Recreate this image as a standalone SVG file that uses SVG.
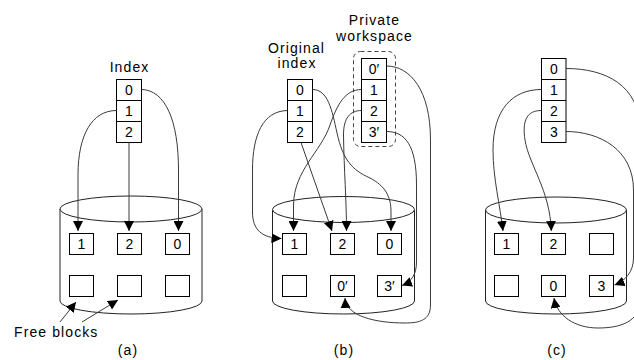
<svg xmlns="http://www.w3.org/2000/svg" width="634" height="360" viewBox="0 0 634 360">
<style>
.bx{fill:#fff;stroke:#000;stroke-width:1}
.ln{fill:none;stroke:#000;stroke-width:1}
.cyl{fill:#fff;stroke:#222;stroke-width:1}
.t{font-family:"Liberation Sans",Arial,sans-serif;font-size:14px;fill:#000;text-anchor:middle}
.lb{font-family:"Liberation Sans",Arial,sans-serif;font-size:14px;fill:#000;text-anchor:middle;letter-spacing:1.1px}
.c{fill:none;stroke:#3a3a3a;stroke-width:1}
.ca{fill:none;stroke:#3a3a3a;stroke-width:1;marker-end:url(#ah)}
.dash{fill:none;stroke:#444;stroke-width:1;stroke-dasharray:4 3}
</style>
<defs>
<marker id="ah" viewBox="0 0 10 10" refX="10" refY="5" markerWidth="10" markerHeight="10" markerUnits="userSpaceOnUse" orient="auto">
<path d="M0,0 L10,5 L0,10 z" fill="#000"/>
</marker>
</defs>
<rect width="634" height="360" fill="#fff"/>

<!-- Panel (a) -->
<g id="disk-a">
<path class="cyl" d="M60,209 L60,301 A71,13 0 0 0 202,301 L202,209"/>
<ellipse class="cyl" cx="131" cy="209" rx="71" ry="13"/>
</g>
<g id="block-a1"><rect class="bx" x="69.5" y="233.5" width="24" height="21"/><text class="t" x="81.5" y="249">1</text></g>
<g id="block-a2"><rect class="bx" x="117.5" y="233.5" width="24" height="21"/><text class="t" x="129.5" y="249">2</text></g>
<g id="block-a3"><rect class="bx" x="165.5" y="233.5" width="24" height="21"/><text class="t" x="177.5" y="249">0</text></g>
<g id="block-a4"><rect class="bx" x="69.5" y="275.5" width="24" height="21"/></g>
<g id="block-a5"><rect class="bx" x="117.5" y="275.5" width="24" height="21"/></g>
<g id="block-a6"><rect class="bx" x="165.5" y="275.5" width="24" height="21"/></g>
<g id="index-a">
<rect class="bx" x="116.5" y="79.5" width="25" height="63"/>
<path class="ln" d="M116.5,100.5 H141.5 M116.5,121.5 H141.5"/>
<text class="t" x="129" y="95">0</text>
<text class="t" x="129" y="116">1</text>
<text class="t" x="129" y="137">2</text>
</g>
<g id="label-a">
<text class="lb" x="129.5" y="72">Index</text>
<text class="lb" x="14" y="336.5" style="text-anchor:start">Free blocks</text>
<text class="lb" x="128" y="355">(a)</text>
</g>

<!-- Panel (b) -->
<g id="disk-b">
<path class="cyl" d="M272.5,209.5 L272.5,301 A71,13 0 0 0 414.5,301 L414.5,209.5"/>
<ellipse class="cyl" cx="343.5" cy="209.5" rx="71" ry="13"/>
</g>
<g id="block-b1"><rect class="bx" x="282.5" y="233.5" width="24" height="21"/><text class="t" x="294.5" y="249">1</text></g>
<g id="block-b2"><rect class="bx" x="330.5" y="233.5" width="24" height="21"/><text class="t" x="342.5" y="249">2</text></g>
<g id="block-b3"><rect class="bx" x="377.5" y="233.5" width="24" height="21"/><text class="t" x="389.5" y="249">0</text></g>
<g id="block-b4"><rect class="bx" x="282.5" y="275.5" width="24" height="21"/></g>
<g id="block-b5"><rect class="bx" x="330.5" y="275.5" width="24" height="21"/><text class="t" x="342.5" y="291">0′</text></g>
<g id="block-b6"><rect class="bx" x="377.5" y="275.5" width="24" height="21"/><text class="t" x="389.5" y="291">3′</text></g>
<g id="index-b-original">
<rect class="bx" x="287.5" y="79.5" width="25" height="63"/>
<path class="ln" d="M287.5,100.5 H312.5 M287.5,121.5 H312.5"/>
<text class="t" x="300" y="95">0</text>
<text class="t" x="300" y="116">1</text>
<text class="t" x="300" y="137">2</text>
<text class="lb" x="296.5" y="52.5">Original</text>
<text class="lb" x="297" y="68">index</text>
</g>
<g id="index-b-private">
<rect class="dash" x="353.5" y="51.5" width="42" height="95" rx="7" ry="7"/>
<rect class="bx" x="361.5" y="58.5" width="25" height="84"/>
<path class="ln" d="M361.5,79.5 H386.5 M361.5,100.5 H386.5 M361.5,121.5 H386.5"/>
<text class="t" x="374" y="74">0′</text>
<text class="t" x="374" y="95">1</text>
<text class="t" x="374" y="116">2</text>
<text class="t" x="374" y="137">3′</text>
<text class="lb" x="374.5" y="25">Private</text>
<text class="lb" x="374.5" y="40.5">workspace</text>
</g>
<g id="label-b"><text class="lb" x="344" y="355">(b)</text></g>

<!-- Panel (c) -->
<g id="disk-c">
<path class="cyl" d="M485.5,210 L485.5,301 A70.5,13 0 0 0 626.5,301 L626.5,210"/>
<ellipse class="cyl" cx="556" cy="210" rx="70.5" ry="13"/>
</g>
<g id="block-c1"><rect class="bx" x="494.5" y="233.5" width="24" height="21"/><text class="t" x="506.5" y="249">1</text></g>
<g id="block-c2"><rect class="bx" x="541.5" y="233.5" width="24" height="21"/><text class="t" x="553.5" y="249">2</text></g>
<g id="block-c3"><rect class="bx" x="589.5" y="233.5" width="24" height="21"/></g>
<g id="block-c4"><rect class="bx" x="494.5" y="275.5" width="24" height="21"/></g>
<g id="block-c5"><rect class="bx" x="541.5" y="275.5" width="24" height="21"/><text class="t" x="553.5" y="291">0</text></g>
<g id="block-c6"><rect class="bx" x="589.5" y="275.5" width="24" height="21"/><text class="t" x="601.5" y="291">3</text></g>
<g id="index-c">
<rect class="bx" x="541.5" y="58.5" width="24.5" height="84"/>
<path class="ln" d="M541.5,79.5 H566 M541.5,100.5 H566 M541.5,121.5 H566"/>
<text class="t" x="553.8" y="74">0</text>
<text class="t" x="553.8" y="95">1</text>
<text class="t" x="553.8" y="116">2</text>
<text class="t" x="553.8" y="137">3</text>
</g>
<g id="label-c"><text class="lb" x="557" y="355">(c)</text></g>

<!-- Connectors -->
<g id="connectors">
<path class="ca" d="M116.5,110.5 C92,110.5 78,135 78,175 L78,231"/>
<path class="ca" d="M129,142.5 L129,231"/>
<path class="ca" d="M141.5,89.5 C165,90 178.5,120 178.5,170 L178.5,231"/>
<path class="ca" d="M60,322 L76,302"/>
<path class="ca" d="M82,322 L118,300"/>

<path class="ca" d="M287.5,110.5 C263,111 252.5,135 252.5,170 L252.5,212 C252.5,230 262,238 281.5,238.5"/>
<path class="ca" d="M312.5,89.5 C328,89.5 332,110 337,133 C343,160 352,170 370,178 C385,186 391,196 391,212 L391,231"/>
<path class="ca" d="M301,142.5 L332,231"/>
<path class="ca" d="M361.5,89.5 C345,89.5 337,105 330,125 C321,152 294,170 293.5,205 L293.5,231"/>
<path class="ca" d="M361.5,110.5 C350,110.5 343.5,118 343.5,135 C344,170 346.5,200 346.5,231"/>
<path class="ca" d="M386.5,66 C410,66 430.5,90 430.5,140 L430.5,305 C430.5,320 420,323 405,323 C375,323 346,316 345,298"/>
<path class="ca" d="M386.5,131.5 C405,131.5 416.5,145 416.5,185 L416.5,262 C416.5,275 411,282 402,285.5"/>

<path class="ca" d="M541.5,89.5 C512,89.5 493,110 493,150 C493,178 500,205 503,231"/>
<path class="ca" d="M541.5,110.5 C527,110.5 522,120 525,140 C529,165 550,190 551.3,231"/>
<path class="ca" d="M566,68.5 C605,68.5 640,85 640,130 L640,300 C640,322 620,328 598,328 C575,328 557,316 554,298"/>
<path class="ca" d="M566,131.5 C600,131.5 633.5,150 633.5,190 L633.5,258 C633.5,272 625,281 614.5,285"/>
</g>
</svg>
